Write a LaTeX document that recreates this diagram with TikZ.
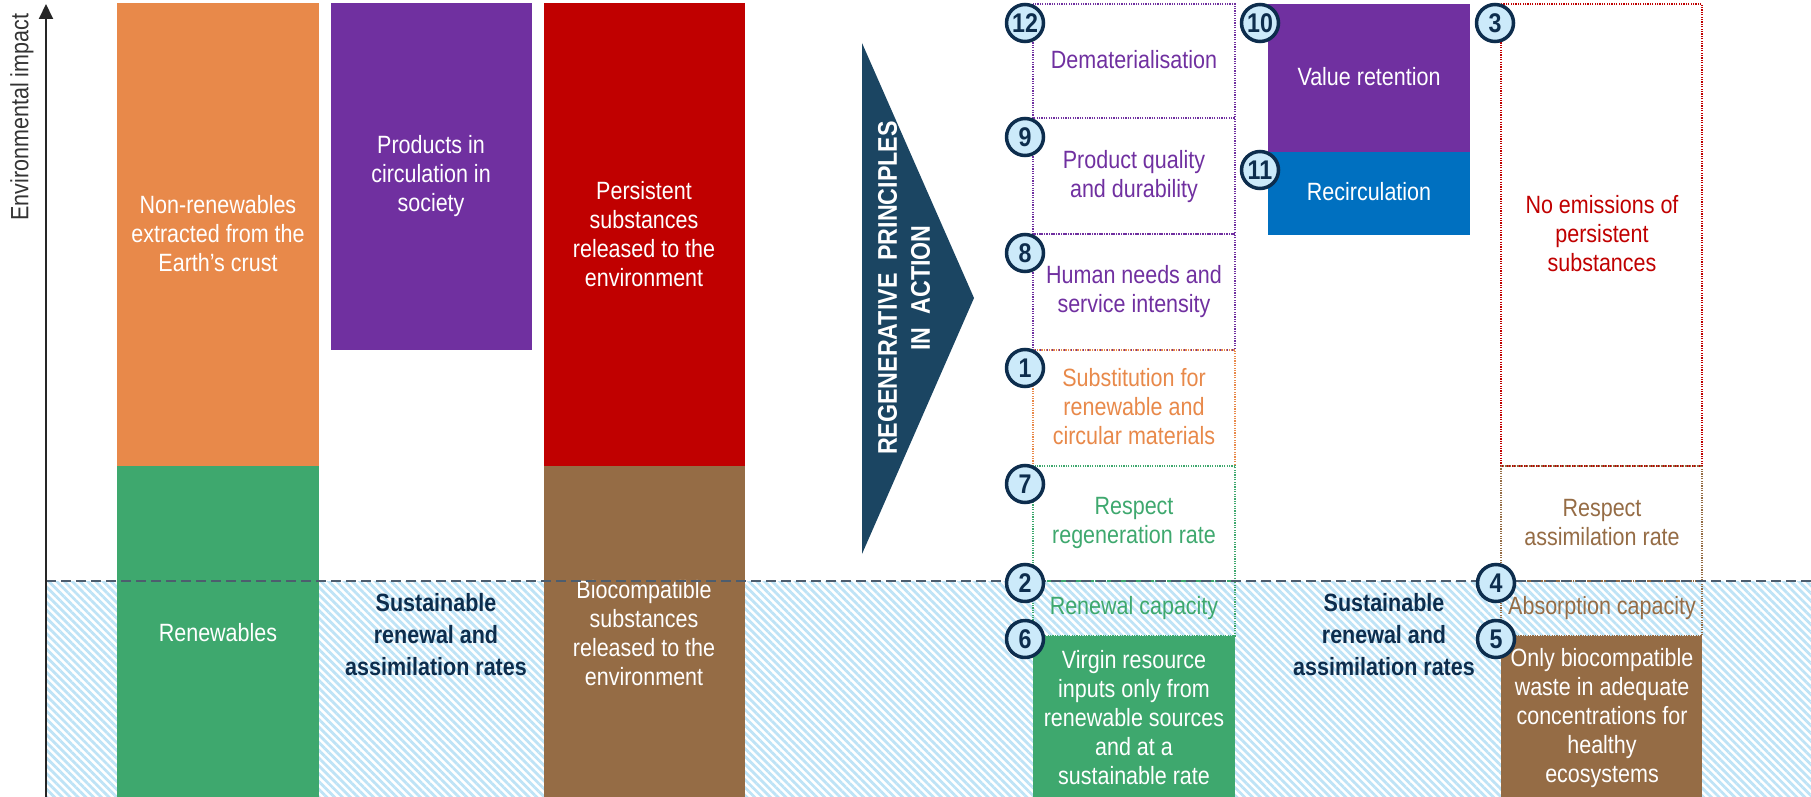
\documentclass[tikz,border=0pt]{standalone}
\usepackage{fontspec}
\setmainfont{Liberation Sans}[FakeStretch=0.86]
\usetikzlibrary{arrows.meta,patterns.meta}

\definecolor{orangebox}{RGB}{232,137,74}
\definecolor{purplebox}{RGB}{112,48,160}
\definecolor{redbox}{RGB}{192,0,0}
\definecolor{greenbox}{RGB}{62,168,110}
\definecolor{brownbox}{RGB}{149,108,69}
\definecolor{bluebox}{RGB}{0,112,192}
\definecolor{chevron}{RGB}{27,69,98}
\definecolor{navy}{RGB}{13,45,77}
\definecolor{badgefill}{RGB}{204,234,250}
\definecolor{hatch}{RGB}{190,227,246}
\definecolor{limit}{RGB}{77,93,110}

\newcommand{\txt}{\fontsize{25}{29}\selectfont}

\tikzset{
  coltext/.style={align=center,text=white,font=\txt},
  boxtext/.style={align=center,font=\txt},
  ratetext/.style={align=center,text=navy,font=\bfseries\fontsize{25}{32}\selectfont},
  dotbox/.style={line width=1.2pt,dash pattern=on 1.2pt off 1.2pt},
  badge/.style={circle,draw=navy,line width=3.5pt,fill=badgefill,minimum size=37pt,
    inner sep=0pt,text=navy,font=\bfseries\fontsize{27}{27}\selectfont},
  axis/.style={line width=2pt,draw=black!85,-{Triangle[width=14pt,length=15pt]}}
}

\begin{document}
\begin{tikzpicture}[x=1pt,y=-1pt]
        \useasboundingbox (0,0) rectangle (1811,797);

        % sustainable zone
        \fill[pattern={Lines[angle=-45,distance=5.5pt,line width=2.8pt]},pattern color=hatch]
            (46,581) rectangle (1811,797);

        % material flows
        \fill[orangebox] (117,3) rectangle (319,466);
        \fill[greenbox] (117,466) rectangle (319,797);
        \fill[purplebox] (331,3) rectangle (532,350);
        \fill[redbox] (544,3) rectangle (745,466);
        \fill[brownbox] (544,466) rectangle (745,797);

        \node[coltext] (nonren) at (218,234) {Non-renewables\\extracted from the\\Earth’s crust};
        \node[coltext] (ren) at (218,633) {Renewables};
        \node[coltext] (prod) at (431,176) {Products in\\circulation in\\society};
        \node[coltext] (pers) at (644,234) {Persistent\\substances\\released to the\\environment};
        \node[coltext] (bio) at (644,633) {Biocompatible\\substances\\released to the\\environment};
        \node[ratetext] (rateL) at (436,635) {Sustainable\\renewal and\\assimilation rates};

        % principles
        \fill[chevron] (862,43) -- (974,298) -- (862,554) -- cycle;
        \node[rotate=90,align=center,text=white,font=\bfseries\fontsize{27}{33}\selectfont]
            (regen) at (904,288) {REGENERATIVE\ \ PRINCIPLES\\IN\ \ ACTION};

        \fill[purplebox] (1268,4) rectangle (1470,152);
        \fill[bluebox] (1268,152) rectangle (1470,235);
        \fill[greenbox] (1033,636) rectangle (1235,797);
        \fill[brownbox] (1501,636) rectangle (1702,797);

        \draw[dotbox,purplebox] (1033,4) rectangle (1235,118);
        \draw[dotbox,purplebox] (1033,118) rectangle (1235,234);
        \draw[dotbox,purplebox] (1033,234) rectangle (1235,350);
        \draw[dotbox,orangebox] (1033,350) rectangle (1235,466);
        \draw[dotbox,greenbox] (1033,466) rectangle (1235,581);
        \draw[dotbox,greenbox] (1033,581) rectangle (1235,636);
        \draw[dotbox,redbox] (1501,4) rectangle (1702,466);
        \draw[dotbox,brownbox] (1501,466) rectangle (1702,581);
        \draw[dotbox,brownbox] (1501,581) rectangle (1702,636);

        % threshold
        \draw[line width=1.5pt,limit,dash pattern=on 10pt off 5pt] (46,581) -- (1811,581);

        \node[boxtext,text=purplebox] (demat) at (1134,60) {Dematerialisation};
        \node[boxtext,text=purplebox] (qual) at (1134,177) {Product quality\\and durability};
        \node[boxtext,text=purplebox] (needs) at (1134,292) {Human needs and\\service intensity};
        \node[boxtext,text=orangebox] (subst) at (1134,407) {Substitution for\\renewable and\\circular materials};
        \node[boxtext,text=greenbox] (regrate) at (1134,523) {Respect\\regeneration rate};
        \node[boxtext,text=greenbox] (renew) at (1134,608) {Renewal capacity};
        \node[coltext] (virgin) at (1134,718) {Virgin resource\\inputs only from\\renewable sources\\and at a\\sustainable rate};
        \node[coltext] (value) at (1369,77) {Value retention};
        \node[coltext] (recirc) at (1369,192) {Recirculation};
        \node[ratetext] (rateR) at (1384,635) {Sustainable\\renewal and\\assimilation rates};
        \node[boxtext,text=redbox] (noemis) at (1602,234) {No emissions of\\persistent\\substances};
        \node[boxtext,text=brownbox] (assim) at (1602,523) {Respect\\assimilation rate};
        \node[boxtext,text=brownbox] (absorb) at (1602,608) {Absorption capacity};
        \node[coltext] (onlybio) at (1602,718) {Only biocompatible\\waste in adequate\\concentrations for\\healthy\\ecosystems};

        \node[badge] (b12) at (1025,23) {12};
        \node[badge] (b9) at (1025,137) {9};
        \node[badge] (b8) at (1025,253) {8};
        \node[badge] (b1) at (1025,368) {1};
        \node[badge] (b7) at (1025,484) {7};
        \node[badge] (b2) at (1025,583) {2};
        \node[badge] (b6) at (1025,639) {6};
        \node[badge] (b10) at (1260,23) {10};
        \node[badge] (b11) at (1260,170) {11};
        \node[badge] (b3) at (1495,23) {3};
        \node[badge] (b4) at (1496,583) {4};
        \node[badge] (b5) at (1496,639) {5};

        % impact axis
        \coordinate (axbot) at (46,797);
        \coordinate (axtop) at (46,4);
        \draw[axis] (axbot) -- (axtop);
        \node[rotate=90,text=black!80,font=\txt] (impact) at (22,117) {Environmental impact};

    \end{tikzpicture}
\end{document}
